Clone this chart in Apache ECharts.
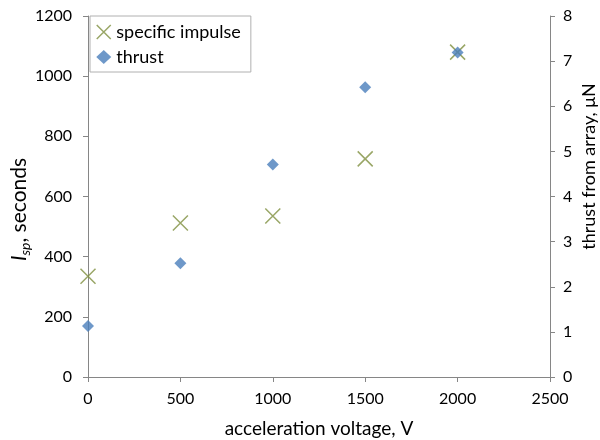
<!DOCTYPE html>
<html>
<head>
<meta charset="utf-8">
<script src="https://cdn.jsdelivr.net/npm/echarts@6/dist/echarts.min.js"></script>
<style>html,body{margin:0;padding:0;background:#fff}#c{width:600px;height:440px}</style>
</head>
<body>
<div id="c"></div>
<script>
const voltage = [0, 500, 1000, 1500, 2000];
const specificImpulse = [335, 512, 535, 725, 1080];
const thrust = [1.13, 2.52, 4.71, 6.42, 7.19];
const xTicks = [0, 500, 1000, 1500, 2000, 2500];
const leftTicks = [0, 200, 400, 600, 800, 1000, 1200];
const rightTicks = [0, 1, 2, 3, 4, 5, 6, 7, 8];

const FONT = 'Lato';
const axisColor = '#868686';
const xPath = 'path://M0,0L10,10M10,0L0,10';
const plain = v => String(v);

const chart = echarts.init(document.getElementById('c'));
chart.setOption({
  animation: false,
  textStyle: {fontFamily: FONT},
  grid: {left: 88, right: 50, top: 16, bottom: 63, containLabel: false, outerBoundsMode: 'none'},
  legend: {
    orient: 'vertical', left: 90, top: 16, itemGap: 7,
    padding: [7, 10, 6, 6],
    backgroundColor: '#fff', borderColor: '#b0b0b0', borderWidth: 1,
    itemWidth: 15, itemHeight: 14,
    textStyle: {fontFamily: FONT, fontSize: 18, color: '#000'},
    data: [
      {name: 'specific impulse', icon: xPath, itemStyle: {color: 'transparent', borderColor: '#7f9040', borderWidth: 1.5}},
      {name: 'thrust', icon: 'diamond', itemStyle: {color: '#4a7ebb'}}
    ]
  },
  xAxis: {
    type: 'value', min: xTicks[0], max: xTicks[xTicks.length - 1], interval: 500,
    name: 'acceleration voltage, V', nameLocation: 'middle', nameGap: 42, nameMoveOverlap: false,
    nameTextStyle: {fontFamily: FONT, fontSize: 19, color: '#000'},
    axisLine: {show: true, lineStyle: {color: axisColor}},
    axisTick: {show: true, length: 5, lineStyle: {color: axisColor}},
    axisLabel: {fontFamily: FONT, fontSize: 16, color: '#000', margin: 14, formatter: plain},
    splitLine: {show: false}
  },
  yAxis: [
    {
      type: 'value', position: 'left', min: leftTicks[0], max: leftTicks[leftTicks.length - 1], interval: 200,
      name: '{i|I}{sub|sp}{t|, seconds}', nameLocation: 'middle', nameGap: 56, nameRotate: 90, nameMoveOverlap: false,
      nameTextStyle: {
        fontFamily: FONT, fontSize: 21, color: '#000', padding: [0, 26, 0, 0],
        rich: {
          i: {fontFamily: FONT, fontSize: 21, fontStyle: 'italic', color: '#000', lineHeight: 26, verticalAlign: 'middle'},
          sub: {fontFamily: FONT, fontSize: 14, fontStyle: 'italic', color: '#000', lineHeight: 26, verticalAlign: 'bottom', padding: [9, 0, 0, 0]},
          t: {fontFamily: FONT, fontSize: 21, color: '#000', lineHeight: 26, verticalAlign: 'middle'}
        }
      },
      axisLine: {show: true, lineStyle: {color: axisColor}},
      axisTick: {show: true, length: 5, lineStyle: {color: axisColor}},
      axisLabel: {fontFamily: FONT, fontSize: 16, color: '#000', margin: 16, formatter: plain},
      splitLine: {show: false}
    },
    {
      type: 'value', position: 'right', min: rightTicks[0], max: rightTicks[rightTicks.length - 1], interval: 1,
      name: 'thrust from array, μN', nameLocation: 'middle', nameGap: 30, nameRotate: 90, nameMoveOverlap: false,
      nameTextStyle: {fontFamily: FONT, fontSize: 18, color: '#000', padding: [0, 0, 0, 60]},
      axisLine: {show: true, lineStyle: {color: axisColor}},
      axisTick: {show: true, length: 5, lineStyle: {color: axisColor}},
      axisLabel: {fontFamily: FONT, fontSize: 16, color: '#000', margin: 13, formatter: plain},
      splitLine: {show: false}
    }
  ],
  series: [
    {
      name: 'specific impulse', type: 'scatter', yAxisIndex: 0,
      symbol: xPath, symbolSize: 15,
      itemStyle: {color: 'transparent', borderColor: '#7f9040', borderWidth: 1.5},
      data: voltage.map((v, i) => [v, specificImpulse[i]]),
      z: 2
    },
    {
      name: 'thrust', type: 'scatter', yAxisIndex: 1,
      symbol: 'diamond', symbolSize: 12,
      itemStyle: {color: '#4a7ebb'},
      data: voltage.map((v, i) => [v, thrust[i]]),
      z: 3
    }
  ]
});
</script>
</body>
</html>
